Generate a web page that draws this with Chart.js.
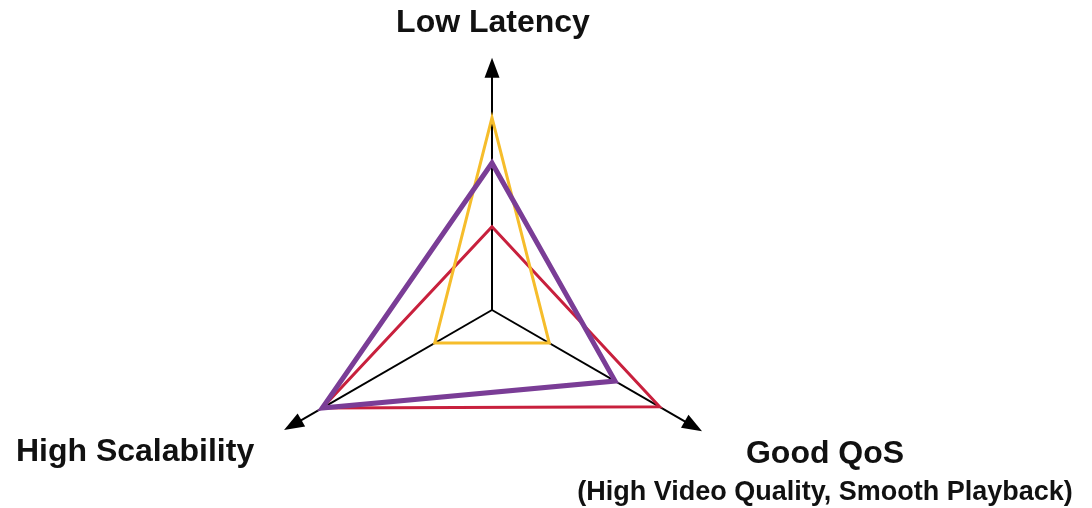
<!DOCTYPE html>
<html>
<head>
<meta charset="utf-8">
<script src="https://cdn.jsdelivr.net/npm/chart.js@4.4.1/dist/chart.umd.min.js"></script>
<style>
    html, body { margin: 0; padding: 0; background: #fff; }
    #wrap { position: relative; width: 1092px; height: 508px; }
</style>
</head>
<body>
<div id="wrap"><canvas id="radar"></canvas></div>
<script>
// axes, clockwise from the top
const axes = ['Low Latency', 'Good QoS', 'High Scalability'];
const axisSub = ['', '(High Video Quality, Smooth Playback)', ''];
// where each arrow ends, in scale units
const axisEnd = [10.3, 9.9, 9.8];

const purpleValues = [6.0, 5.8, 8.0];
const redValues = [3.4, 7.9, 8.0];
const yellowValues = [7.85, 2.7, 2.7];

const arrowAxes = {
    id: 'arrowAxes',
    beforeDatasetsDraw(chart) {
        const scale = chart.scales.r;
        const ctx = chart.ctx;
        ctx.save();
        ctx.strokeStyle = '#000';
        ctx.fillStyle = '#000';
        ctx.lineWidth = 2;
        axes.forEach((name, i) => {
            const tip = scale.getPointPosition(i, scale.getDistanceFromCenterForValue(axisEnd[i]));
            const ang = Math.atan2(tip.y - scale.yCenter, tip.x - scale.xCenter);
            const len = 20, half = 7.5;
            const bx = tip.x - Math.cos(ang) * len;
            const by = tip.y - Math.sin(ang) * len;
            ctx.beginPath();
            ctx.moveTo(scale.xCenter, scale.yCenter);
            ctx.lineTo(bx + Math.cos(ang) * 2, by + Math.sin(ang) * 2);
            ctx.stroke();
            ctx.beginPath();
            ctx.moveTo(tip.x, tip.y);
            ctx.lineTo(bx - Math.sin(ang) * half, by + Math.cos(ang) * half);
            ctx.lineTo(bx + Math.sin(ang) * half, by - Math.cos(ang) * half);
            ctx.closePath();
            ctx.fill();
        });
        ctx.restore();
    },
    afterDraw(chart) {
        const scale = chart.scales.r;
        const ctx = chart.ctx;
        const tips = axes.map((n, i) => scale.getPointPosition(i, scale.getDistanceFromCenterForValue(axisEnd[i])));
        ctx.save();
        ctx.fillStyle = '#111';
        ctx.textAlign = 'center';
        ctx.textBaseline = 'alphabetic';
        ctx.font = 'bold 32px "Liberation Sans", Arial, sans-serif';
        ctx.fillText(axes[0], tips[0].x + 1, tips[0].y - 26);
        ctx.fillText(axes[1], tips[1].x + 123, tips[1].y + 32);
        ctx.fillText(axes[2], tips[2].x - 149, tips[2].y + 31);
        ctx.font = 'bold 27px "Liberation Sans", Arial, sans-serif';
        ctx.fillText(axisSub[1], tips[1].x + 123, tips[1].y + 69);
        ctx.restore();
    }
};

new Chart(document.getElementById('radar'), {
    type: 'radar',
    data: {
        labels: axes,
        datasets: [
            {
                label: 'Purple',
                data: purpleValues,
                borderColor: '#7a3d96',
                borderWidth: 5,
                fill: false,
                pointRadius: 0
            },
            {
                label: 'Yellow',
                data: yellowValues,
                borderColor: '#f6bd2b',
                borderWidth: 3,
                fill: false,
                pointRadius: 0
            },
            {
                label: 'Red',
                data: redValues,
                borderColor: '#c8203d',
                borderWidth: 3,
                fill: false,
                pointRadius: 0
            }
        ]
    },
    options: {
        responsive: true,
        maintainAspectRatio: false,
        animation: false,
        layout: { padding: { left: 296, right: 404, top: 114, bottom: 2 } },
        elements: { line: { tension: 0, borderJoinStyle: 'miter' } },
        plugins: {
            legend: { display: false },
            tooltip: { enabled: false }
        },
        scales: {
            r: {
                min: 0,
                max: 8,
                ticks: { display: false },
                grid: { display: false },
                angleLines: { display: false },
                pointLabels: { display: false }
            }
        }
    },
    plugins: [arrowAxes]
});
</script>
</body>
</html>
